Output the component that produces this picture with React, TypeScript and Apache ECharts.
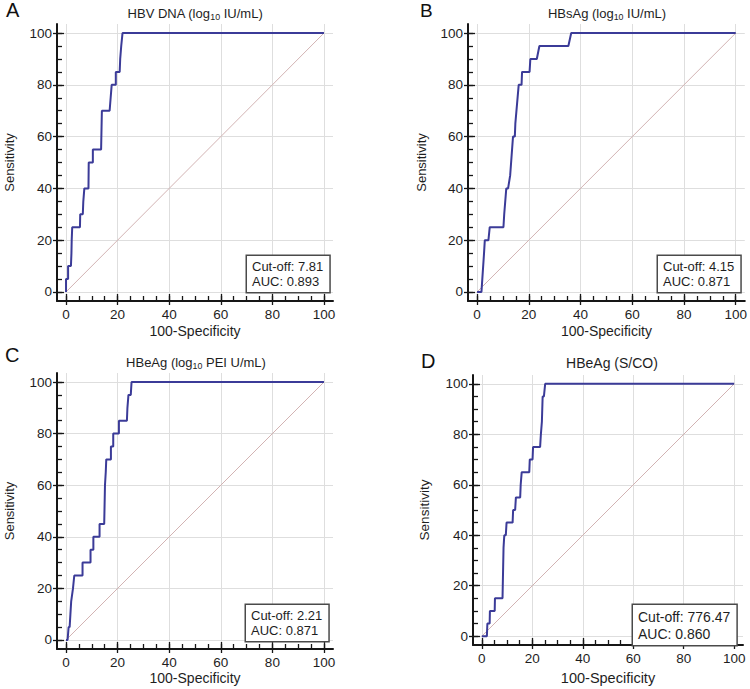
import React, { useEffect, useRef } from 'react';
import * as echarts from 'echarts';

// ---------- data ----------
const panelLetters = ['A', 'B', 'C', 'D'];
const panelTitles = [
  'HBV DNA (log{s|10} IU/mL)',
  'HBsAg (log{s|10} IU/mL)',
  'HBeAg (log{s|10} PEI U/mL)',
  'HBeAg (S/CO)',
];
const cutOffs = ['7.81', '4.15', '2.21', '776.47'];
const aucs = ['0.893', '0.871', '0.871', '0.860'];

const xAxisName = '100-Specificity';
const yAxisName = 'Sensitivity';
const majorTicks = [0, 20, 40, 60, 80, 100];
const minorTicks = [0, 5, 10, 15, 20, 25, 30, 35, 40, 45, 50, 55, 60, 65, 70, 75, 80, 85, 90, 95, 100];

const fprA = [0, 0, 0.8, 0.8, 1.9, 2.1, 2.2, 2.4, 5.4, 5.5, 6.5, 6.7, 7.1, 8.7, 8.8, 10.4, 10.4, 13.6, 13.9, 16.9, 17.3, 17.7, 19.3, 19.3, 20.8, 21.0, 21.4, 21.9, 100];
const tprA = [0, 5, 5, 10, 10, 15, 20, 25, 25, 30, 30, 35, 40, 40, 50, 50, 55, 55, 70, 70, 75, 80, 80, 85, 85, 90, 95, 100, 100];

const fprB = [0, 1.7, 2.7, 3.0, 4.4, 4.9, 10.2, 10.5, 11.3, 12.0, 12.8, 13.9, 14.6, 14.8, 16.1, 17.2, 17.4, 20.3, 20.6, 23.1, 24.1, 35.3, 36.4, 100];
const tprB = [0, 0, 15, 20, 20, 25, 25, 30, 40, 40, 45, 60, 60, 65, 80, 80, 85, 85, 90, 90, 95, 95, 100, 100];

const fprC = [0, 0.6, 1.0, 1.4, 1.7, 2.0, 2.7, 3.2, 6.4, 6.4, 9.5, 9.5, 10.6, 10.6, 13.0, 13.0, 14.8, 15.1, 15.4, 15.6, 17.4, 17.4, 18.3, 18.3, 20.5, 20.5, 23.6, 23.8, 24.2, 25.1, 25.4, 100];
const tprC = [0, 0, 5, 5, 10, 15, 20, 25, 25, 30, 30, 35, 35, 40, 40, 45, 45, 60, 65, 70, 70, 75, 75, 80, 80, 85, 85, 90, 95, 95, 100, 100];

const fprD = [0, 2.0, 2.2, 3.1, 3.2, 5.1, 5.2, 8.2, 8.6, 8.9, 9.5, 9.8, 12.2, 12.4, 13.2, 13.5, 15.2, 15.4, 15.8, 18.8, 19.0, 20.1, 20.3, 23.1, 23.4, 23.8, 24.1, 24.6, 25.1, 100];
const tprD = [0, 0, 5, 5, 10, 10, 15, 15, 35, 40, 40, 45, 45, 50, 50, 55, 55, 60, 65, 65, 70, 70, 75, 75, 80, 85, 95, 95, 100, 100];

const diagX = [0, 100];
const diagY = [0, 100];

const curvesX = [fprA, fprB, fprC, fprD];
const curvesY = [tprA, tprB, tprC, tprD];

// ---------- layout / style ----------
const FONT = '"Liberation Sans", Arial, Helvetica, sans-serif';
const TEXT = '#1e1e1e';
const AXIS = '#161616';
const GRIDC = '#dedede';
const CURVE = '#3b3b98';
const DIAG = '#d2b3b3';
const AX_MIN = -3.5;
const AX_MAX = 103.5;

const grids = [
  { left: 57, top: 24, width: 276, height: 277 },
  { left: 468, top: 24, width: 277, height: 277 },
  { left: 57, top: 373, width: 276, height: 276 },
  { left: 473, top: 375, width: 270, height: 270 },
];
const tickFont = [13.5, 13.5, 13.5, 13.5];
const xNameFont = [14, 14, 14, 14.5];
const yNameFont = [13, 13, 13, 13.5];
const xNameGap = [23, 23, 22, 25];
const yNameGap = [41.5, 40.5, 41.5, 41.5];

const letterPos = [
  { x: 6, y: 0, size: 20 },
  { x: 420, y: 1, size: 19 },
  { x: 5, y: 345, size: 20 },
  { x: 421, y: 351, size: 20 },
];
const titlePos = [
  { x: 195, y: 13, size: 13 },
  { x: 607, y: 13, size: 13 },
  { x: 196, y: 362, size: 13 },
  { x: 612, y: 363, size: 14 },
];
const boxPos = [
  { x: 247, y: 292, size: 13, lh: 15 },
  { x: 658, y: 292, size: 13, lh: 15 },
  { x: 246, y: 641, size: 13, lh: 15 },
  { x: 633, y: 645, size: 14, lh: 17 },
];

function buildOption() {
  const xAxis: any[] = [];
  const yAxis: any[] = [];
  const series: any[] = [];
  const graphic: any[] = [];

  grids.forEach((g, i) => {
    const common = { type: 'value', gridIndex: i, min: AX_MIN, max: AX_MAX };
    const tickStyle = { color: AXIS, width: 1.3 };
    xAxis.push({
      ...common,
      position: 'bottom',
      axisLine: { show: true, onZero: false, lineStyle: { color: AXIS, width: 2 } },
      axisTick: { show: true, inside: true, length: 7, customValues: majorTicks, lineStyle: tickStyle },
      axisLabel: { show: true, customValues: majorTicks, margin: 6, fontSize: tickFont[i], color: TEXT, fontFamily: FONT },
      splitLine: { show: true, lineStyle: { color: GRIDC, width: 1 } },
      name: xAxisName,
      nameLocation: 'middle',
      nameGap: xNameGap[i],
      nameTextStyle: { fontSize: xNameFont[i], color: TEXT, fontFamily: FONT },
    });
    xAxis.push({
      ...common,
      position: 'bottom',
      axisLine: { show: false, onZero: false },
      axisTick: { show: true, inside: true, length: 5, customValues: minorTicks, lineStyle: tickStyle },
      axisLabel: { show: false },
      splitLine: { show: false },
    });
    xAxis.push({
      ...common,
      position: 'bottom',
      axisLine: { show: false, onZero: false },
      axisTick: { show: true, inside: false, length: 4, customValues: majorTicks, lineStyle: tickStyle },
      axisLabel: { show: false },
      splitLine: { show: false },
    });
    yAxis.push({
      ...common,
      position: 'left',
      axisLine: { show: true, onZero: false, lineStyle: { color: AXIS, width: 2 } },
      axisTick: { show: true, inside: true, length: 7, customValues: majorTicks, lineStyle: tickStyle },
      axisLabel: { show: true, customValues: majorTicks, margin: 5, fontSize: tickFont[i], color: TEXT, fontFamily: FONT },
      splitLine: { show: true, lineStyle: { color: GRIDC, width: 1 } },
      name: yAxisName,
      nameLocation: 'middle',
      nameGap: yNameGap[i],
      nameTextStyle: { fontSize: yNameFont[i], color: TEXT, fontFamily: FONT },
    });
    yAxis.push({
      ...common,
      position: 'left',
      axisLine: { show: false, onZero: false },
      axisTick: { show: true, inside: true, length: 5, customValues: minorTicks, lineStyle: tickStyle },
      axisLabel: { show: false },
      splitLine: { show: false },
    });
    yAxis.push({
      ...common,
      position: 'left',
      axisLine: { show: false, onZero: false },
      axisTick: { show: true, inside: false, length: 4, customValues: majorTicks, lineStyle: tickStyle },
      axisLabel: { show: false },
      splitLine: { show: false },
    });

    series.push({
      type: 'line',
      xAxisIndex: i * 3,
      yAxisIndex: i * 3,
      data: diagX.map((v, k) => [v, diagY[k]]),
      showSymbol: false,
      symbol: 'none',
      lineStyle: { color: DIAG, width: 1 },
      z: 2,
      silent: true,
    });
    series.push({
      type: 'line',
      xAxisIndex: i * 3,
      yAxisIndex: i * 3,
      data: curvesX[i].map((v, k) => [v, curvesY[i][k]]),
      showSymbol: false,
      symbol: 'none',
      lineStyle: { color: CURVE, width: 2 },
      z: 3,
      silent: true,
    });

    const lp = letterPos[i];
    graphic.push({
      type: 'text',
      x: lp.x,
      y: lp.y,
      style: { text: panelLetters[i], fontSize: lp.size, fontFamily: FONT, fill: '#111', align: 'left', verticalAlign: 'top' },
    });
    const tp = titlePos[i];
    graphic.push({
      type: 'text',
      x: tp.x,
      y: tp.y,
      style: {
        text: panelTitles[i],
        fontSize: tp.size,
        fontFamily: FONT,
        fill: TEXT,
        align: 'center',
        verticalAlign: 'middle',
        lineHeight: 16,
        rich: {
          s: { fontSize: tp.size * 0.68, fontFamily: FONT, fill: TEXT, verticalAlign: 'bottom', lineHeight: 10, padding: [6, 0, 0, 0] },
        },
      },
    });
    const bp = boxPos[i];
    graphic.push({
      type: 'text',
      x: bp.x,
      y: bp.y,
      z: 10,
      style: {
        text: 'Cut-off: ' + cutOffs[i] + '\nAUC: ' + aucs[i],
        fontSize: bp.size,
        fontFamily: FONT,
        fill: TEXT,
        align: 'left',
        verticalAlign: 'bottom',
        lineHeight: bp.lh,
        backgroundColor: '#ffffff',
        borderColor: '#4a4a4a',
        borderWidth: 1.5,
        padding: [3, 6, 3, 5],
      },
    });
  });

  return {
    animation: false,
    backgroundColor: '#ffffff',
    grid: grids.map((g) => ({ ...g, containLabel: false })),
    xAxis,
    yAxis,
    series,
    graphic,
  };
}

export default function App() {
  const ref = useRef<HTMLDivElement>(null);
  useEffect(() => {
    if (!ref.current) return;
    const chart = echarts.init(ref.current, undefined, { renderer: 'svg' });
    chart.setOption(buildOption() as any);
    return () => chart.dispose();
  }, []);
  return (
    <div
      ref={ref}
      style={{ position: 'absolute', left: 0, top: 0, width: 750, height: 689, background: '#fff' }}
    />
  );
}
